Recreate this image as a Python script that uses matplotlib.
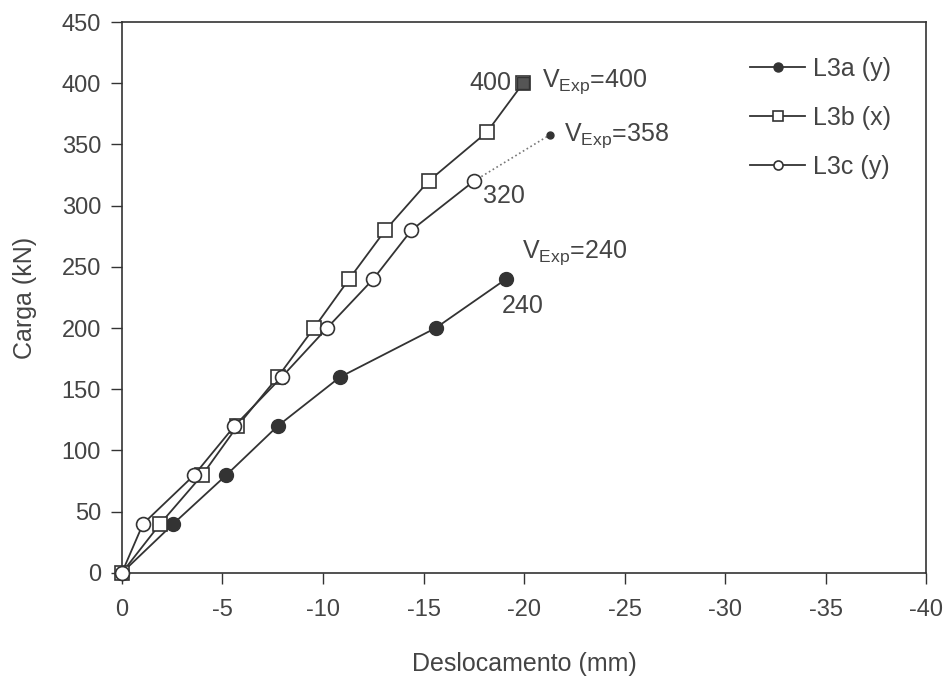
import matplotlib.pyplot as plt

plt.rcParams['font.family'] = ['Liberation Sans', 'DejaVu Sans']
plt.rcParams['mathtext.fontset'] = 'custom'
plt.rcParams['mathtext.rm'] = 'Liberation Sans'
plt.rcParams['mathtext.it'] = 'Liberation Sans:italic'
plt.rcParams['axes.unicode_minus'] = False

# Load steps (kN) and displacements (mm)
carga_a = [0, 40, 80, 120, 160, 200, 240]
desl_a = [0, -2.55, -5.2, -7.75, -10.85, -15.6, -19.1]

carga_b = [0, 40, 80, 120, 160, 200, 240, 280, 320, 360, 400]
desl_b = [0, -1.9, -4.0, -5.75, -7.75, -9.55, -11.3, -13.1, -15.25, -18.15, -19.95]

carga_c = [0, 40, 80, 120, 160, 200, 240, 280, 320]
desl_c = [0, -1.05, -3.6, -5.6, -7.95, -10.2, -12.5, -14.4, -17.5]

# extrapolated failure of L3c
carga_c_exp = [320, 358]
desl_c_exp = [-17.5, -21.3]

cor = '#333333'
txt = '#444444'

fig = plt.figure(figsize=(9.52, 6.78), dpi=100)
ax = fig.add_axes([0.128, 0.155, 0.845, 0.8125])

ax.plot(desl_a, carga_a, '-o', color=cor, lw=1.3, ms=10, mfc=cor, mec=cor,
        label='L3a (y)', clip_on=False, zorder=3)
ax.plot(desl_b, carga_b, '-s', color=cor, lw=1.3, ms=10, mfc='white', mec=cor,
        mew=1.2, label='L3b (x)', clip_on=False, zorder=3)
ax.plot(desl_c, carga_c, '-o', color=cor, lw=1.3, ms=10, mfc='white', mec=cor,
        mew=1.2, label='L3c (y)', clip_on=False, zorder=3)

# final points / extrapolation
ax.plot(desl_b[-1:], carga_b[-1:], 's', color=cor, ms=9, mfc='#555555', mec=cor, zorder=4)
ax.plot(desl_c_exp, carga_c_exp, ':', color='#777777', lw=1.2)
ax.plot(desl_c_exp[-1:], carga_c_exp[-1:], 'o', color=cor, ms=5)

fs = 18
ax.text(-19.35, 400, '400', ha='right', va='center', fontsize=fs, color=txt)
ax.text(-20.9, 401, r'V$_{\mathrm{Exp}}$=400', ha='left', va='center', fontsize=fs, color=txt)
ax.text(-22.0, 357, r'V$_{\mathrm{Exp}}$=358', ha='left', va='center', fontsize=fs, color=txt)
ax.text(-17.95, 308, '320', ha='left', va='center', fontsize=fs, color=txt)
ax.text(-19.9, 262, r'V$_{\mathrm{Exp}}$=240', ha='left', va='center', fontsize=fs, color=txt)
ax.text(-18.9, 218, '240', ha='left', va='center', fontsize=fs, color=txt)

ax.set_xlim(0, -40)
ax.set_ylim(0, 450)
ax.set_xticks(range(0, -41, -5))
ax.set_yticks(range(0, 451, 50))
ax.tick_params(direction='out', length=8, width=1, colors=cor, labelsize=17,
               labelcolor=txt)
ax.tick_params(axis='x', pad=11)
ax.tick_params(axis='y', pad=7)
for s in ax.spines.values():
    s.set_color(cor)
    s.set_linewidth(1.2)

ax.set_xlabel('Deslocamento (mm)', fontsize=18, color=txt, labelpad=22)
ax.set_ylabel('Carga (kN)', fontsize=18, color=txt, labelpad=18)

leg = ax.legend(loc='upper left', frameon=False, fontsize=18, markerscale=0.65,
                handlelength=2.2, labelspacing=1.0, handletextpad=0.3,
                borderpad=0, borderaxespad=0, bbox_to_anchor=(0.781, 0.937))
for t in leg.get_texts():
    t.set_color(txt)

fig.savefig('out.png', dpi=100)
